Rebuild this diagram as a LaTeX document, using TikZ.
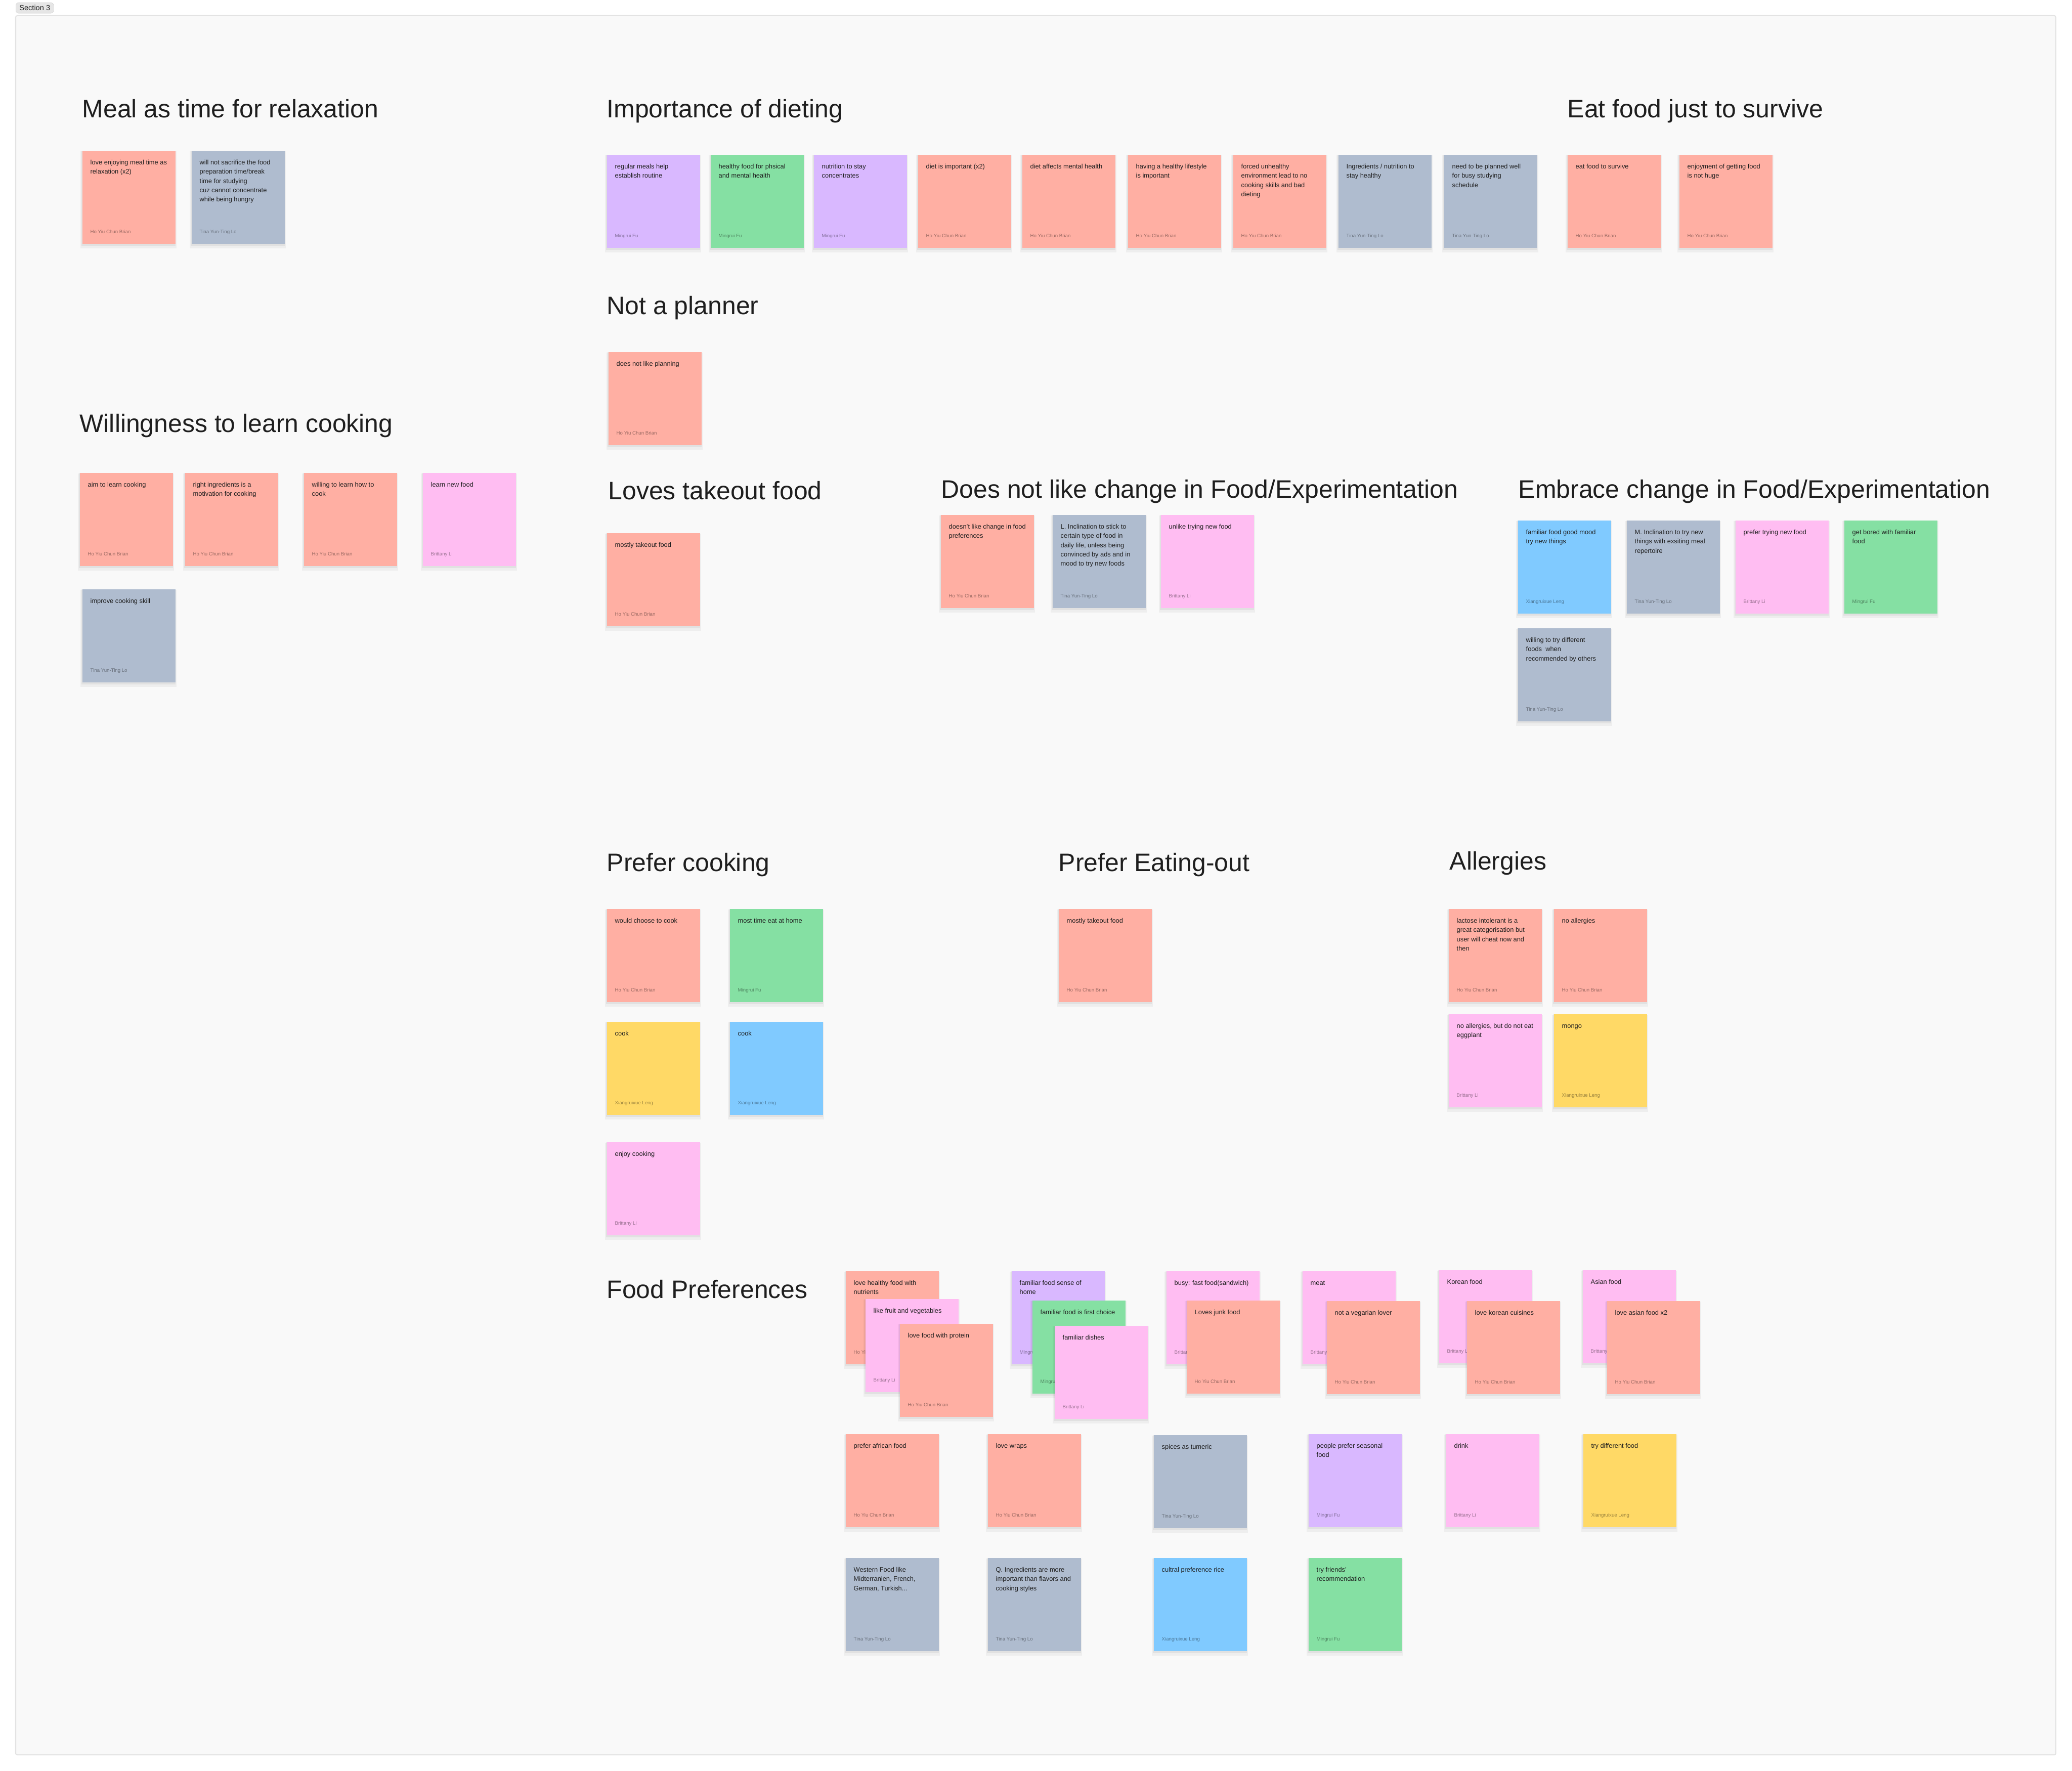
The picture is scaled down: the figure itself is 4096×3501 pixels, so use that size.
\documentclass[tikz,border=0pt]{standalone}
\usepackage{fontspec}
\setmainfont{Liberation Sans}

% FigJam sticky colours
\definecolor{stickyred}{HTML}{FFAFA3}
\definecolor{stickyslate}{HTML}{AFBCCF}
\definecolor{stickyviolet}{HTML}{D9B8FF}
\definecolor{stickygreen}{HTML}{85E0A3}
\definecolor{stickypink}{HTML}{FFBDF2}
\definecolor{stickyyellow}{HTML}{FFD966}
\definecolor{stickyblue}{HTML}{80CAFF}
\definecolor{sectionbg}{HTML}{F9F9F9}
\definecolor{sectionline}{HTML}{E3E3E3}
\definecolor{tagfill}{HTML}{E6E6E6}
\definecolor{tagline}{HTML}{C8C8C8}
\definecolor{inkdark}{HTML}{1E1E1E}

% name, x, y, colour, text, author
\newcommand{\stickynote}[6]{%
  \fill[black, opacity=0.045] (#2-3,#3+2) rectangle ++(190,192);
  \fill[black, opacity=0.05] (#2-1,#3+1) rectangle ++(186,188);
  \node[note, fill=#4] (#1) at (#2,#3) {};
  \node[notetext] (#1-t) at ([shift={(16,15)}]#1.north west) {\strut #5};
  \node[notewho] (#1-a) at ([shift={(16,-21)}]#1.south west) {#6};
}

\begin{document}
\begin{tikzpicture}[x=0.01cm, y=-0.01cm,
  note/.style={rectangle, draw=none, inner sep=0, anchor=north west,
    minimum width=1.84cm, minimum height=1.84cm},
  notetext/.style={anchor=north west, inner sep=0, align=left, text=inkdark,
    font=\fontsize{3.65pt}{5.2pt}\selectfont},
  notewho/.style={anchor=base west, inner sep=0, text=black, text opacity=0.4,
    font=\fontsize{2.75pt}{3.3pt}\selectfont},
  heading/.style={anchor=base west, inner sep=0, text=inkdark,
    font=\fontsize{14.2pt}{17pt}\selectfont},
  sectiontag/.style={anchor=north west, fill=tagfill, draw=tagline, line width=0.004cm,
    rounded corners=0.06cm, inner sep=0, minimum width=0.75cm, minimum height=0.21cm,
    text=inkdark, font=\fontsize{4.15pt}{5pt}\selectfont}]

\useasboundingbox (0,0) rectangle (4096,3501);
\fill[white] (0,0) rectangle (4096,3501);

% Section frame
\draw[sectionline, line width=0.02cm, fill=sectionbg, rounded corners=0.03cm] (31,31) rectangle (4064,3469);
\node[sectiontag] (sec) at (31,5) {Section 3};

% Meal as time for relaxation
\node[heading] (hmeal) at (162,233) {Meal as time for relaxation};
\stickynote{m1}{162}{297}{stickyred}{love enjoying meal time as\\relaxation (x2)}{Ho Yiu Chun Brian}
\stickynote{m2}{378}{297}{stickyslate}{will not sacrifice the food\\preparation time/break\\time for studying\\cuz cannot concentrate\\while being hungry}{Tina Yun-Ting Lo}

% Importance of dieting
\node[heading] (hdiet) at (1199,233) {Importance of dieting};
\foreach \nx/\ncol/\ntxt/\nwho [count=\i] in {
  1199/stickyviolet/{regular meals help\\establish routine}/Mingrui Fu,
  1404/stickygreen/{healthy food for phsical\\and mental health}/Mingrui Fu,
  1608/stickyviolet/{nutrition to stay\\concentrates}/Mingrui Fu,
  1814/stickyred/{diet is important (x2)}/Ho Yiu Chun Brian,
  2020/stickyred/{diet affects mental health}/Ho Yiu Chun Brian,
  2229/stickyred/{having a healthy lifestyle\\is important}/Ho Yiu Chun Brian,
  2437/stickyred/{forced unhealthy\\environment lead to no\\cooking skills and bad\\dieting}/Ho Yiu Chun Brian,
  2645/stickyslate/{Ingredients / nutrition to\\stay healthy}/Tina Yun-Ting Lo,
  2854/stickyslate/{need to be planned well\\for busy studying\\schedule}/Tina Yun-Ting Lo}
{
  \stickynote{d\i}{\nx}{305}{\ncol}{\ntxt}{\nwho}
}

% Eat food just to survive
\node[heading] (hsurv) at (3098,233) {Eat food just to survive};
\stickynote{e1}{3098}{305}{stickyred}{eat food to survive}{Ho Yiu Chun Brian}
\stickynote{e2}{3319}{305}{stickyred}{enjoyment of getting food\\is not huge}{Ho Yiu Chun Brian}

% Not a planner
\node[heading] (hplan) at (1199,622) {Not a planner};
\stickynote{p1}{1202}{695}{stickyred}{does not like planning}{Ho Yiu Chun Brian}

% Willingness to learn cooking
\node[heading] (hlearn) at (157,855) {Willingness to learn cooking};
\stickynote{w1}{157}{934}{stickyred}{aim to learn cooking}{Ho Yiu Chun Brian}
\stickynote{w2}{365}{934}{stickyred}{right ingredients is a\\motivation for cooking}{Ho Yiu Chun Brian}
\stickynote{w3}{600}{934}{stickyred}{willing to learn how to\\cook}{Ho Yiu Chun Brian}
\stickynote{w4}{835}{934}{stickypink}{learn new food}{Brittany Li}
\stickynote{w5}{162}{1164}{stickyslate}{improve cooking skill}{Tina Yun-Ting Lo}

% Loves takeout food
\node[heading] (htake) at (1202,988) {Loves takeout food};
\stickynote{t1}{1199}{1053}{stickyred}{mostly takeout food}{Ho Yiu Chun Brian}

% Does not like change
\node[heading] (hstay) at (1860,985) {Does not like change in Food/Experimentation};
\stickynote{c1}{1859}{1017}{stickyred}{doesn't like change in food\\preferences}{Ho Yiu Chun Brian}
\stickynote{c2}{2080}{1017}{stickyslate}{L. Inclination to stick to\\certain type of food in\\daily life, unless being\\convinced by ads and in\\mood to try new foods}{Tina Yun-Ting Lo}
\stickynote{c3}{2294}{1017}{stickypink}{unlike trying new food}{Brittany Li}

% Embrace change
\node[heading] (hnew) at (3001,985) {Embrace change in Food/Experimentation};
\stickynote{x1}{3000}{1028}{stickyblue}{familiar food good mood\\try new things}{Xiangruixue Leng}
\stickynote{x2}{3215}{1028}{stickyslate}{M. Inclination to try new\\things with exsiting meal\\repertoire}{Tina Yun-Ting Lo}
\stickynote{x3}{3430}{1028}{stickypink}{prefer trying new food}{Brittany Li}
\stickynote{x4}{3645}{1028}{stickygreen}{get bored with familiar\\food}{Mingrui Fu}
\stickynote{x5}{3000}{1241}{stickyslate}{willing to try different\\foods\ \ when\\recommended by others}{Tina Yun-Ting Lo}

% Prefer cooking
\node[heading] (hcook) at (1199,1722) {Prefer cooking};
\stickynote{k1}{1199}{1796}{stickyred}{would choose to cook}{Ho Yiu Chun Brian}
\stickynote{k2}{1442}{1796}{stickygreen}{most time eat at home}{Mingrui Fu}
\stickynote{k3}{1199}{2019}{stickyyellow}{cook}{Xiangruixue Leng}
\stickynote{k4}{1442}{2019}{stickyblue}{cook}{Xiangruixue Leng}
\stickynote{k5}{1199}{2257}{stickypink}{enjoy cooking}{Brittany Li}

% Prefer Eating-out
\node[heading] (hout) at (2092,1722) {Prefer Eating-out};
\stickynote{o1}{2092}{1796}{stickyred}{mostly takeout food}{Ho Yiu Chun Brian}

% Allergies
\node[heading] (hallg) at (2865,1719) {Allergies};
\stickynote{a1}{2863}{1796}{stickyred}{lactose intolerant is a\\great categorisation but\\user will cheat now and\\then}{Ho Yiu Chun Brian}
\stickynote{a2}{3071}{1796}{stickyred}{no allergies}{Ho Yiu Chun Brian}
\stickynote{a3}{2863}{2004}{stickypink}{no allergies, but do not eat\\eggplant}{Brittany Li}
\stickynote{a4}{3071}{2004}{stickyyellow}{mongo}{Xiangruixue Leng}

% Food Preferences: stacked piles
\node[heading] (hpref) at (1199,2566) {Food Preferences};
\stickynote{f1}{1671}{2512}{stickyred}{love healthy food with\\nutrients}{Ho Yiu Chun Brian}
\stickynote{f2}{1710}{2567}{stickypink}{like fruit and vegetables}{Brittany Li}
\stickynote{f3}{1778}{2616}{stickyred}{love food with protein}{Ho Yiu Chun Brian}
\stickynote{f4}{1999}{2512}{stickyviolet}{familiar food sense of\\home}{Mingrui Fu}
\stickynote{f5}{2040}{2570}{stickygreen}{familiar food is first choice}{Mingrui Fu}
\stickynote{f6}{2084}{2620}{stickypink}{familiar dishes}{Brittany Li}
\stickynote{f7}{2305}{2512}{stickypink}{busy: fast food(sandwich)}{Brittany Li}
\stickynote{f8}{2345}{2570}{stickyred}{Loves junk food}{Ho Yiu Chun Brian}
\stickynote{f9}{2574}{2512}{stickypink}{meat}{Brittany Li}
\stickynote{f10}{2622}{2571}{stickyred}{not a vegarian lover}{Ho Yiu Chun Brian}
\stickynote{f11}{2844}{2510}{stickypink}{Korean food}{Brittany Li}
\stickynote{f12}{2899}{2571}{stickyred}{love korean cuisines}{Ho Yiu Chun Brian}
\stickynote{f13}{3128}{2510}{stickypink}{Asian food}{Brittany Li}
\stickynote{f14}{3176}{2571}{stickyred}{love asian food x2}{Ho Yiu Chun Brian}

% Food Preferences: second row
\stickynote{f15}{1671}{2834}{stickyred}{prefer african food}{Ho Yiu Chun Brian}
\stickynote{f16}{1952}{2834}{stickyred}{love wraps}{Ho Yiu Chun Brian}
\stickynote{f17}{2280}{2836}{stickyslate}{spices as tumeric}{Tina Yun-Ting Lo}
\stickynote{f18}{2586}{2834}{stickyviolet}{people prefer seasonal\\food}{Mingrui Fu}
\stickynote{f19}{2858}{2834}{stickypink}{drink}{Brittany Li}
\stickynote{f20}{3129}{2834}{stickyyellow}{try different food}{Xiangruixue Leng}

% Food Preferences: third row
\stickynote{f21}{1671}{3079}{stickyslate}{Western Food like\\Midterranien, French,\\German, Turkish...}{Tina Yun-Ting Lo}
\stickynote{f22}{1952}{3079}{stickyslate}{Q. Ingredients are more\\important than flavors and\\cooking styles}{Tina Yun-Ting Lo}
\stickynote{f23}{2280}{3079}{stickyblue}{cultral preference rice}{Xiangruixue Leng}
\stickynote{f24}{2586}{3079}{stickygreen}{try friends'\\recommendation}{Mingrui Fu}

\end{tikzpicture}
\end{document}
